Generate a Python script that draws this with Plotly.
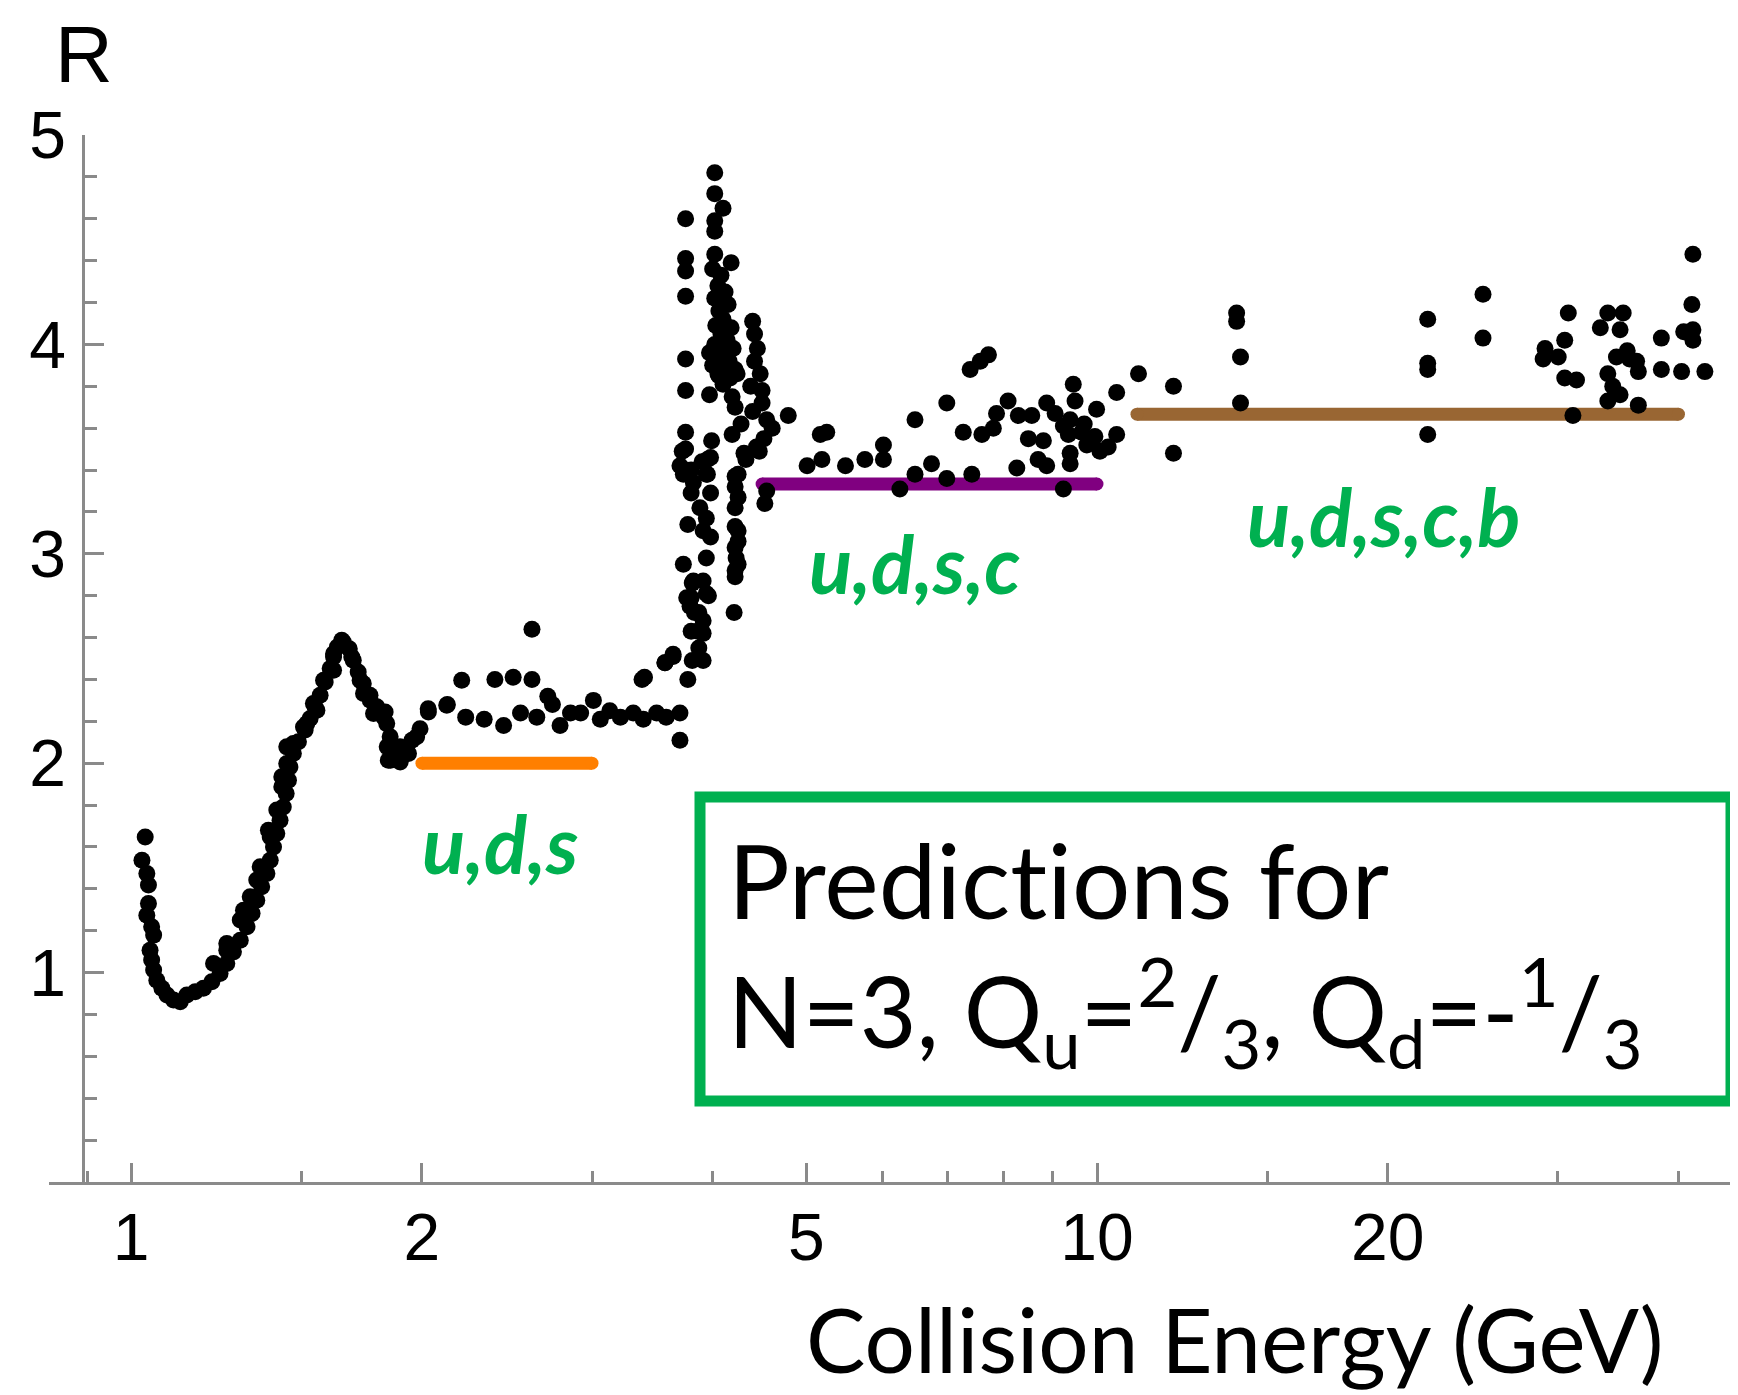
import plotly.graph_objects as go

# ---------------- data ----------------
# low-energy curve (rho / omega / phi region)
low_E = [1.034, 1.026, 1.038, 1.042, 1.042, 1.038, 1.050, 1.055, 1.046, 1.050, 1.055, 1.063,
         1.076, 1.089, 1.106, 1.124, 1.142, 1.165, 1.188, 1.212, 1.236, 1.256, 1.276, 1.297,
         1.318, 1.334, 1.349, 1.365, 1.382, 1.393, 1.404, 1.415, 1.426, 1.437, 1.447, 1.455,
         1.460, 1.472, 1.490, 1.514, 1.532, 1.550, 1.569, 1.588, 1.607, 1.620, 1.635, 1.658,
         1.682, 1.698, 1.718, 1.739, 1.767, 1.796, 1.824, 1.839, 1.854, 1.868, 1.846, 1.899,
         1.937, 1.953, 1.991, 2.031,
         1.449, 1.432, 1.387, 1.349, 1.307, 1.256, 1.217, 1.557, 1.520, 1.620, 1.740, 1.782,
         1.832, 1.898, 1.975,
         1.256, 1.297, 1.328, 1.360, 1.393, 1.415, 1.432, 1.449, 1.472, 1.508, 1.544, 1.582,
         1.620, 1.652, 1.692, 1.726, 1.768, 1.825, 1.841, 1.856]
low_R = [1.648, 1.537, 1.473, 1.418, 1.330, 1.274, 1.219, 1.179, 1.107, 1.060, 1.012, 0.964,
         0.925, 0.893, 0.869, 0.861, 0.893, 0.908, 0.925, 0.956, 0.996, 1.044, 1.099, 1.155,
         1.219, 1.283, 1.346, 1.410, 1.473, 1.537, 1.600, 1.664, 1.728, 1.791, 1.855, 1.919,
         1.982, 2.046, 2.102, 2.158, 2.213, 2.269, 2.325, 2.388, 2.452, 2.507, 2.555, 2.579,
         2.547, 2.492, 2.436, 2.380, 2.325, 2.269, 2.237, 2.189, 2.126, 2.062, 2.014, 2.006,
         2.046, 2.110, 2.165, 2.245,
         2.078, 1.935, 1.680, 1.442, 1.298, 1.139, 1.044, 2.253, 2.190, 2.444, 2.333, 2.237,
         2.245, 2.078, 2.126,
         1.107, 1.251, 1.362, 1.505, 1.648, 1.776, 1.887, 1.998, 2.094, 2.173, 2.285, 2.396,
         2.523, 2.587, 2.507, 2.396, 2.301, 2.221, 2.078, 2.014]

# u,d,s plateau region
uds_E = [2.122, 2.199, 2.125, 2.03, 2.22, 2.32, 2.38, 2.486, 2.60, 2.60, 2.43, 2.53, 2.63,
         2.70, 2.73, 2.78, 2.85, 2.92, 3.01, 3.06, 3.13, 3.21, 3.31, 3.39, 3.38, 3.50, 3.58,
         3.70, 3.70, 3.77, 3.57, 3.64, 3.81, 3.40]
uds_R = [2.277, 2.396, 2.28, 2.26, 2.22, 2.21, 2.40, 2.41, 2.40, 2.64, 2.18, 2.24, 2.22,
         2.32, 2.28, 2.18, 2.24, 2.24, 2.30, 2.21, 2.25, 2.22, 2.24, 2.21, 2.40, 2.24, 2.22,
         2.24, 2.11, 2.40, 2.48, 2.52, 2.49, 2.41]

# charm threshold resonances
spike_E = [3.75, 3.75, 3.75, 3.75, 3.75, 3.75, 3.75, 3.75, 3.75, 3.70, 3.80, 3.90,
           4.02, 4.02, 4.10, 4.02, 4.02, 4.02, 4.18,
           4.00, 4.08, 4.05, 4.12, 4.02, 4.15, 4.06, 4.10, 4.03, 4.18, 4.08, 4.14, 4.02, 4.20,
           4.10, 4.05, 4.16, 4.00, 4.12, 4.22, 4.06, 4.17, 4.24, 4.10, 3.97, 4.05,
           3.97, 3.99, 3.95, 3.95,
           4.40, 4.42, 4.45, 4.42, 4.48, 4.19, 4.50, 4.55, 4.61, 4.19, 4.47, 4.33, 4.25, 4.22,
           4.28, 4.38, 4.50, 4.40, 4.52, 4.79, 5.17,
           3.72, 3.98, 3.73, 3.94, 3.80, 3.98, 3.77, 3.94, 3.98, 3.73, 3.94, 3.82, 3.80, 3.94,
           3.87, 3.80, 3.91, 3.87, 3.64, 3.57, 3.91, 3.82, 3.88, 3.91, 3.91, 3.79, 3.91,
           3.76, 3.96, 3.81, 3.86, 3.83,
           4.22, 4.22, 4.25, 4.22, 4.25, 4.22, 4.21, 4.31, 4.44, 4.55, 4.53, 4.22, 4.25, 4.22,
           4.25, 4.23, 4.22]
spike_R = [4.60, 4.41, 4.35, 4.23, 3.93, 3.78, 3.58, 3.50, 3.40, 3.42, 3.40, 3.44,
           4.82, 4.72, 4.65, 4.59, 4.54, 4.43, 4.39,
           4.36, 4.33, 4.28, 4.25, 4.22, 4.19, 4.16, 4.12, 4.09, 4.08, 4.05, 4.02, 4.00, 3.98,
           3.96, 3.93, 3.92, 3.90, 3.88, 3.88, 3.85, 3.84, 3.86, 3.81, 3.96, 3.86,
           3.76, 3.54, 3.45, 3.38,
           4.11, 4.05, 3.98, 3.92, 3.86, 3.75, 3.72, 3.64, 3.60, 3.57, 3.49, 3.45, 3.38, 3.70,
           3.62, 3.80, 3.78, 3.68, 3.55, 3.66, 3.57,
           3.49, 3.46, 3.38, 3.38, 3.29, 3.29, 3.14, 3.17, 3.08, 2.95, 2.98, 2.87, 2.79, 2.81,
           2.72, 2.63, 2.62, 2.55, 2.51, 2.48, 2.49, 3.34, 3.22, 3.11, 2.87, 2.75, 2.68,
           2.79, 2.80, 2.86, 2.63, 2.72,
           3.32, 3.22, 3.11, 3.03, 2.95, 2.89, 2.72, 3.48, 3.51, 3.30, 3.24, 3.37, 3.27, 3.13,
           3.06, 2.98, 2.92]

# u,d,s,c plateau region
udsc_E = [5.25, 5.01, 5.19, 5.49, 5.75, 6.01, 6.01, 6.25, 6.48, 6.48, 6.74, 6.99, 6.99, 7.27,
          7.42, 7.39, 7.57, 7.72, 7.60, 7.81, 7.87, 8.09, 8.29, 8.56, 8.26, 8.49, 8.80, 8.69,
          8.87, 8.87, 9.05, 9.23, 9.45, 9.49, 9.38, 9.34, 9.38, 9.38, 9.23, 9.64, 9.76, 9.99,
          9.95, 10.07, 10.27, 10.48, 10.48, 11.04, 9.70, 9.85]
udsc_R = [3.58, 3.42, 3.45, 3.42, 3.45, 3.52, 3.45, 3.31, 3.64, 3.38, 3.43, 3.36, 3.72, 3.58,
          3.38, 3.88, 3.92, 3.95, 3.57, 3.60, 3.67, 3.73, 3.66, 3.66, 3.41, 3.55, 3.54, 3.45,
          3.42, 3.72, 3.67, 3.61, 3.81, 3.73, 3.64, 3.57, 3.48, 3.43, 3.31, 3.58, 3.52, 3.69,
          3.56, 3.49, 3.51, 3.57, 3.77, 3.86, 3.62, 3.55]

# u,d,s,c,b plateau region
udscb_E = [12.0, 12.0, 13.95, 13.95, 14.08, 14.08, 22.0, 22.0, 22.0, 22.0, 25.1, 25.1, 30.76,
           30.5, 29.1, 28.97, 30.03, 30.5, 31.37, 31.1, 33.8, 35.06, 33.2, 34.8, 34.5, 35.6,
           36.2, 33.8, 36.35, 34.8, 33.8, 36.35, 38.4, 38.4, 40.3, 42.6, 40.5, 41.4, 41.4,
           41.3, 41.4, 34.2, 35.4]
udscb_R = [3.80, 3.48, 4.15, 4.11, 3.94, 3.72, 4.12, 3.91, 3.88, 3.57, 4.24, 4.03, 4.15,
           4.02, 3.98, 3.93, 3.94, 3.84, 3.83, 3.66, 4.15, 4.15, 4.08, 4.07, 3.94, 3.93,
           3.92, 3.86, 3.87, 3.76, 3.73, 3.71, 4.03, 3.88, 3.87, 3.87, 4.06, 4.07, 4.02,
           4.19, 4.43, 3.80, 3.97]

# quark-model predictions
pred_labels = ["u,d,s", "u,d,s,c", "u,d,s,c,b"]
pred_E_start = [2.0, 4.5, 11.0]
pred_E_end = [3.0, 10.0, 40.0]
pred_R = [2.0, 10 / 3, 11 / 3]
pred_colors = ["#FF7F00", "#800080", "#996633"]

x_tick_vals = [1, 2, 5, 10, 20]
x_minor_vals = [0.9, 1.5, 3, 4, 6, 7, 8, 9, 15, 30, 40]
y_tick_vals = [1, 2, 3, 4, 5]
y_minor_vals = [0.2, 0.4, 0.6, 0.8, 1.2, 1.4, 1.6, 1.8, 2.2, 2.4, 2.6, 2.8,
                3.2, 3.4, 3.6, 3.8, 4.2, 4.4, 4.6, 4.8]

# ---------------- layout helpers (reference pixel -> paper) ----------------
OFF = 8                      # page body margin offsets the figure by 8 px
W, H = 1738 - OFF, 1395 - OFF
PL, PR, PT, PB = 49 - OFF, 1738 - OFF, 135 - OFF, 1182 - OFF


def px(x):
    return (x - OFF - PL) / (PR - PL)


def py(y):
    return (PB - (y - OFF)) / (PB - PT)


GREEN = "#00B050"
AXIS = "#8a8a8a"

fig = go.Figure()

for e0, e1, r, c in zip(pred_E_start, pred_E_end, pred_R, pred_colors):
    fig.add_trace(go.Scatter(x=[e0, e1], y=[r, r], mode="lines+markers",
                             line=dict(color=c, width=13),
                             marker=dict(color=c, size=13),
                             hoverinfo="skip", showlegend=False))

for xs, ys in [(low_E, low_R), (uds_E, uds_R), (spike_E, spike_R),
               (udsc_E, udsc_R), (udscb_E, udscb_R)]:
    fig.add_trace(go.Scatter(x=xs, y=ys, mode="markers",
                             marker=dict(color="black", size=17, line=dict(width=0)),
                             showlegend=False))

tick_font = dict(family="Liberation Sans, Arial", size=66, color="black")

fig.update_layout(
    width=W, height=H,
    margin=dict(l=PL, r=W - PR, t=PT, b=H - PB, autoexpand=False),
    paper_bgcolor="white", plot_bgcolor="white",
    showlegend=False,
    xaxis=dict(type="log", range=[-0.0851, 1.6637],
               tickmode="array", tickvals=x_tick_vals,
               ticktext=[str(v) for v in x_tick_vals],
               ticks="inside", ticklen=19, tickwidth=2.5, tickcolor=AXIS,
               minor=dict(tickmode="array", tickvals=x_minor_vals, ticks="inside",
                          ticklen=11, tickwidth=2.5, tickcolor=AXIS, showgrid=False),
               showline=True, linecolor=AXIS, linewidth=2.5,
               showgrid=False, zeroline=False, tickfont=tick_font,
               ticklabelstandoff=-4, automargin=False),
    yaxis=dict(range=[0, 5], anchor="free", position=px(83),
               tickmode="array", tickvals=y_tick_vals,
               ticktext=[str(v) for v in y_tick_vals],
               ticks="inside", ticklen=19, tickwidth=2.5, tickcolor=AXIS,
               minor=dict(tickmode="array", tickvals=y_minor_vals, ticks="inside",
                          ticklen=12, tickwidth=2.5, tickcolor=AXIS, showgrid=False),
               showline=True, linecolor=AXIS, linewidth=2.5,
               showgrid=False, zeroline=False, tickfont=tick_font,
               ticklabelstandoff=3, automargin=False),
)

annotations = [
    dict(text="R", x=px(84), y=py(OFF), yanchor="top",
         font=dict(family="Liberation Sans, Arial", size=80, color="black")),
    dict(text="Collision Energy (GeV)", x=px(1234), y=py(1338),
         font=dict(family="Lato", size=89, color="black")),
    dict(text="Predict\u200cions for", x=px(726), y=py(879), xanchor="left",
         font=dict(family="Lato", size=103, color="black")),
    dict(text="N=3, Q<sub>u</sub>=<sup>2</sup>/<sub>3</sub>, Q<sub>d</sub>=-<sup>1</sup>/<sub>3</sub>",
         x=px(726), y=py(1011), xanchor="left",
         font=dict(family="Lato", size=98, color="black")),
]
label_pos = [(500, 843), (915, 563), (1383, 516)]
for lab, (lx, ly) in zip(pred_labels, label_pos):
    annotations.append(dict(text=lab, x=px(lx), y=py(ly),
                            font=dict(family="Lato", size=80, color=GREEN,
                                      weight="bold", style="italic")))
for a in annotations:
    a.setdefault("xanchor", "center")
    a.setdefault("yanchor", "middle")
    a.update(xref="paper", yref="paper", showarrow=False)
fig.update_layout(annotations=annotations)

fig.add_shape(type="rect", xref="paper", yref="paper",
              x0=px(700), x1=px(1731), y0=py(797), y1=py(1101),
              line=dict(color=GREEN, width=11), fillcolor="rgba(0,0,0,0)")

fig.write_html("out.html")
